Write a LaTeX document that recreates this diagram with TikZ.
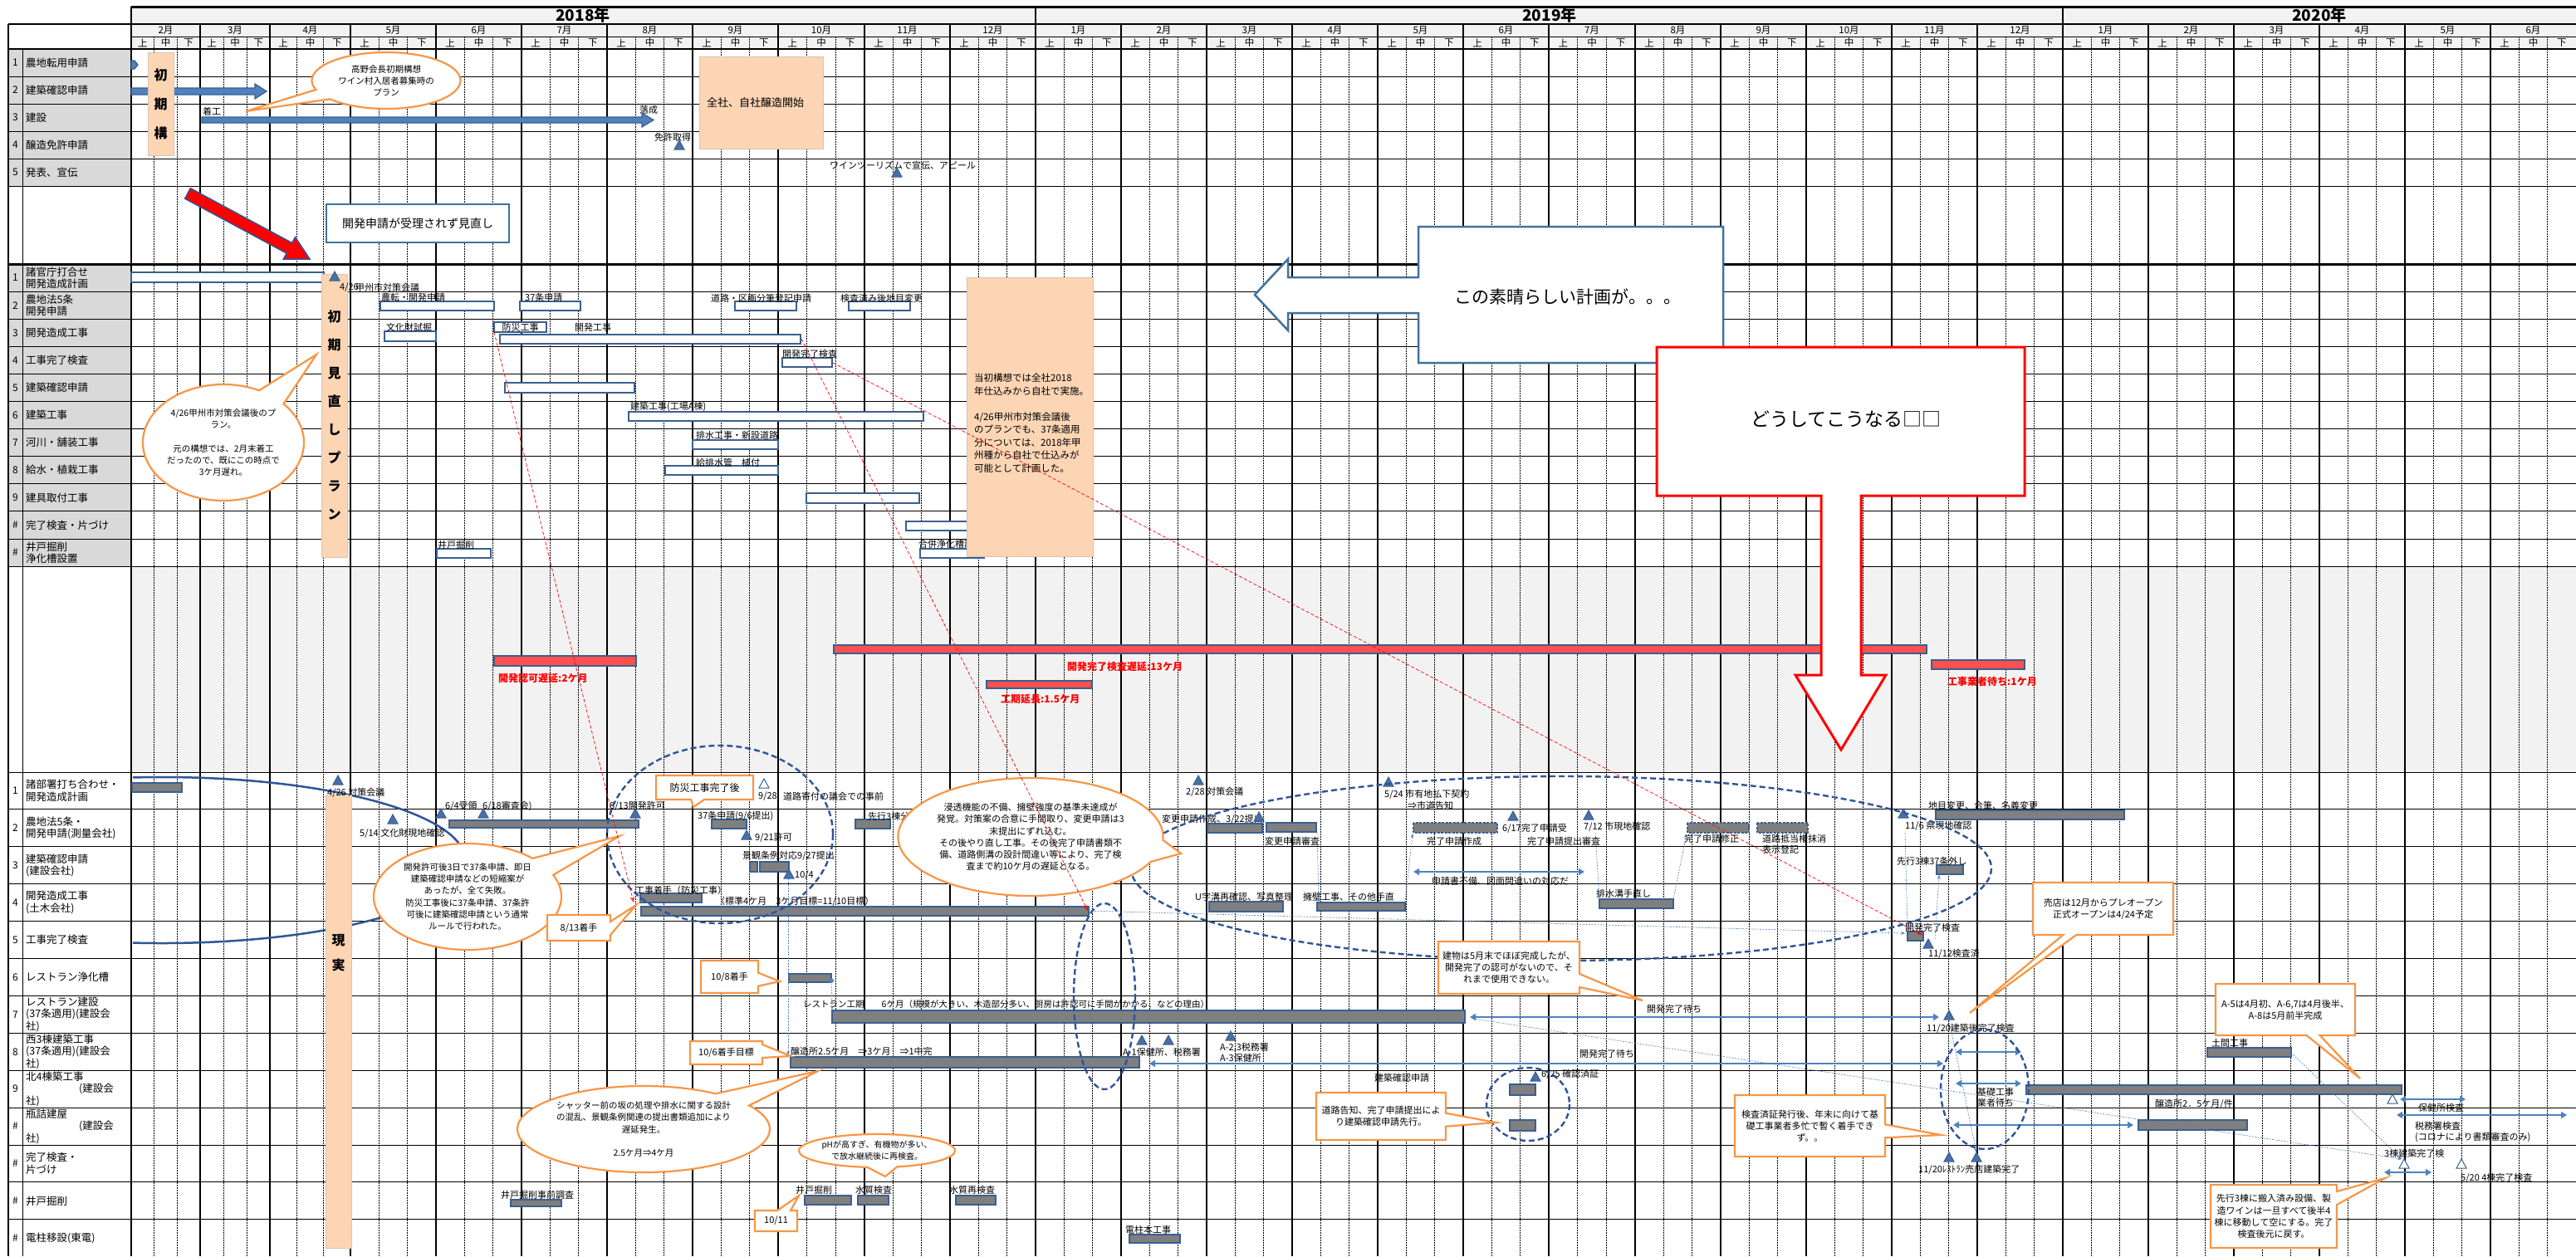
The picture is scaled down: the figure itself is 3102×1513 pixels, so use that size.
\documentclass[tikz,border=0pt]{standalone}
\usepackage{fontspec}
\setmainfont{Noto Sans CJK JP}
\usetikzlibrary{arrows.meta,shapes.callouts}
\definecolor{hdrgray}{HTML}{F2F2F2}
\definecolor{lblgray}{HTML}{D9D9D9}
\definecolor{peach}{HTML}{FCD5B4}
\definecolor{peachedge}{HTML}{D9C3B0}
\definecolor{barblue}{HTML}{3A5F8F}
\definecolor{bargray}{HTML}{7F7F7F}
\definecolor{msblue}{HTML}{4A6FA5}
\definecolor{calloutorange}{HTML}{F79646}
\definecolor{arrowblue}{HTML}{4F81BD}
\definecolor{dashblue}{HTML}{2F5597}
\definecolor{delayred}{HTML}{FF5050}
\definecolor{boxblue}{HTML}{41719C}
\newcommand\fsz[2]{\fontsize{#1}{#2}\selectfont}
\newcommand\mstone[3][]{\filldraw[milestone,#1] (#2-6,#3+5) -- (#2+6,#3+5) -- (#2,#3-6) -- cycle;}

\begin{document}
\begin{tikzpicture}[x=1pt, y=-1pt,
  lbl/.style={font=\fsz{11}{13}, inner sep=0pt, anchor=west},
  rowlbl/.style={font=\fsz{12.5}{14.5}, inner sep=0pt, anchor=west, align=left},
  numlbl/.style={font=\fsz{12}{14}, inner sep=0pt},
  hdr/.style={font=\fsz{11.5}{13}, inner sep=0pt},
  yearlbl/.style={font=\bfseries\fsz{19}{21}, inner sep=0pt},
  vtext/.style={font=\bfseries\fsz{16}{34}, align=center, inner sep=0pt},
  peachbox/.style={fill=peach, draw=peachedge, line width=0.8pt},
  monthline/.style={line width=2.2pt},
  junline/.style={line width=0.5pt, dash pattern=on 1.5pt off 1.5pt},
  rowline/.style={line width=0.9pt},
  planbar/.style={fill=white, draw=barblue, line width=1.8pt},
  realbar/.style={fill=bargray, draw=barblue, line width=1.8pt},
  dashbar/.style={fill=bargray, draw=barblue, line width=1.8pt, dash pattern=on 3pt off 1.5pt},
  delaybar/.style={fill=delayred, draw=barblue, line width=1.2pt},
  delaylbl/.style={lbl, font=\bfseries\fsz{12}{14}, text=red},
  milestone/.style={fill=msblue, draw=barblue, line width=1pt},
  blockarrow/.style={fill=arrowblue, draw=barblue, line width=1.2pt},
  ocall/.style={rectangle callout, draw=calloutorange, line width=2.2pt, fill=white, font=\fsz{11}{14.2}, align=center, inner sep=0pt, callout pointer width=16pt},
  oellip/.style={ellipse callout, draw=calloutorange, line width=2.2pt, fill=white, font=\fsz{10.5}{14.2}, align=center, inner sep=0pt, callout pointer arc=22},
  dashring/.style={draw=dashblue, line width=2.4pt, dash pattern=on 7pt off 4pt},
  dblarrow/.style={{Triangle[length=7pt,width=8pt]}-{Triangle[length=7pt,width=8pt]}, draw=arrowblue, line width=2.3pt},
  conn/.style={-{Stealth[length=5pt]}, draw=arrowblue, line width=0.6pt, dash pattern=on 2pt off 1.5pt},
  redconn/.style={-{Stealth[length=7pt,open]}, draw=red, line width=0.7pt, dash pattern=on 4pt off 2.5pt},
]
\useasboundingbox (0,0) rectangle (3102,1513);
\clip (0,0) rectangle (3102,1513);

% backgrounds
\fill[white] (0,0) rectangle (3102,1513);
\fill[hdrgray] (158,8) rectangle (3102,59);
\fill[lblgray] (10,59) rectangle (158,224);
\fill[lblgray] (10,318) rectangle (158,682);
\fill[hdrgray] (158,682) rectangle (3102,930);

% month / ten-day grid
\foreach \xa/\xb/\m [count=\i] in {158/241/2, 241/325/3, 325/422/4, 422/525/5, 525/628/6, 628/731/7, 731/834/8, 834/937/9, 937/1041/10, 1041/1144/11, 1144/1247/12, 1247/1350/1, 1350/1453/2, 1453/1556/3, 1556/1659/4, 1659/1762/5, 1762/1865/6, 1865/1969/7, 1969/2072/8, 2072/2175/9, 2175/2278/10, 2278/2381/11, 2381/2484/12, 2484/2587/1, 2587/2690/2, 2690/2793/3, 2793/2896/4, 2896/2999/5, 2999/3102/6}{
  \pgfmathsetmacro\xw{(\xb-\xa)/3}
  \draw[junline] ({\xa+\xw},44) -- ({\xa+\xw},1513);
  \draw[junline] ({\xa+2*\xw},44) -- ({\xa+2*\xw},1513);
  \draw[monthline] (\xa,29) -- (\xa,1513);
  \node[hdr] (mon\i) at ({(\xa+\xb)/2},36.5) {\m 月};
  \node[hdr] (jo\i) at ({\xa+0.5*\xw},51.5) {上};
  \node[hdr] (chu\i) at ({\xa+1.5*\xw},51.5) {中};
  \node[hdr] (ge\i) at ({\xa+2.5*\xw},51.5) {下};
}
\draw[line width=3pt] (158,8) -- (3102,8);
\draw[line width=2.5pt] (10,29) -- (3102,29);
\draw[line width=1pt] (158,44) -- (3102,44);
\draw[line width=2.5pt] (10,59) -- (3102,59);
\foreach \y in {92,125,158,191,224} \draw[rowline] (10,\y) -- (3102,\y);
\draw[line width=3pt] (10,318) -- (3102,318);
\foreach \i in {1,...,11} \draw[rowline] (10,{318+33.1*\i}) -- (3102,{318+33.1*\i});
\draw[rowline] (10,930) -- (3102,930);
\foreach \i in {1,...,12} \draw[rowline] (10,{930+44.9*\i}) -- (3102,{930+44.9*\i});
\draw[line width=2.5pt] (10,29) -- (10,1513);
\draw[line width=1pt] (27,59) -- (27,1513);
\draw[line width=2.5pt] (158,8) -- (158,1513);
\draw[line width=2.5pt] (1247,8) -- (1247,29);
\draw[line width=2.5pt] (2484,8) -- (2484,29);
\node[yearlbl] (y2018) at (702,18.5) {2018年};
\node[yearlbl] (y2019) at (1866,18.5) {2019年};
\node[yearlbl] (y2020) at (2793,18.5) {2020年};

% row labels
\foreach \t [count=\i] in {農地転用申請, 建築確認申請, 建設, 醸造免許申請, 発表、宣伝}{
  \node[numlbl] (tn\i) at (18.5,{59+33*(\i-0.5)}) {\i};
  \node[rowlbl] (tl\i) at (31,{59+33*(\i-0.5)}) {\t};
}
\foreach \n/\t [count=\i] in {1/{諸官庁打合せ\\開発造成計画}, 2/{農地法5条\\開発申請}, 3/開発造成工事, 4/工事完了検査, 5/建築確認申請, 6/建築工事, 7/河川・舗装工事, 8/給水・植栽工事, 9/建具取付工事, \#/完了検査・片づけ, \#/{井戸掘削\\浄化槽設置}}{
  \node[numlbl] (mn\i) at (18.5,{318+33.1*(\i-0.5)}) {\n};
  \node[rowlbl] (ml\i) at (31,{318+33.1*(\i-0.5)}) {\t};
}
\foreach \n/\t [count=\i] in {1/{諸部署打ち合わせ・\\開発造成計画}, 2/{農地法5条・\\開発申請(測量会社)}, 3/{建築確認申請\\(建設会社)}, 4/{開発造成工事\\(土木会社)}, 5/工事完了検査, 6/レストラン浄化槽, 7/{レストラン建設\\(37条適用)(建設会\\社)}, 8/{西3棟建築工事\\(37条適用)(建設会\\社)}, 9/{北4棟築工事\\\hspace*{64pt}(建設会\\社)}, \#/{瓶詰建屋\\\hspace*{64pt}(建設会\\社)}, \#/{完了検査・\\片づけ}, \#/井戸掘削, \#/電柱移設(東電)}{
  \node[numlbl] (bn\i) at (18.5,{930+44.9*(\i-0.5)}) {\n};
  \node[rowlbl] (bl\i) at (31,{930+44.9*(\i-0.5)}) {\t};
}

% initial plan
\filldraw[blockarrow] (158,73) -- (162,73) -- (166,78) -- (162,83) -- (158,83) -- cycle;
\filldraw[blockarrow] (158,106) -- (307,106) -- (307,101) -- (321,110) -- (307,119) -- (307,114) -- (158,114) -- cycle;
\filldraw[blockarrow] (243,141) -- (773,141) -- (773,136) -- (787,144.5) -- (773,153) -- (773,148) -- (243,148) -- cycle;
\node[peachbox, vtext, font=\bfseries\fsz{16}{35}, minimum width=31pt, minimum height=124pt] (shoki) at (193.5,125) {初\\期\\構};
\node[lbl] (chako) at (244,134) {着工};
\node[lbl] (rakusei) at (770,132) {落成};
\mstone{818}{175}
\node[lbl, anchor=center] (menkyo) at (810,165) {免許取得};
\node[peachbox, minimum width=149pt, minimum height=111pt] (zensha) at (916.5,123.5) {};
\node[lbl, font=\fsz{13}{15}] (zenshat) at (851,124) {全社、自社醸造開始};
\node[lbl] (tourism) at (999,199) {ワインツーリズムで宣伝、アピール};
\mstone{1080}{208}

% revised plan
\draw[planbar] (158,328) rectangle (390,340);
\node[peachbox, vtext, minimum width=31pt, minimum height=341pt] (minaoshi) at (402.5,500.5) {初\\期\\見\\直\\し\\プ\\ラ\\ン};
\mstone{403}{333}
\node[lbl] (p426) at (409,346) {4/26};
\node[lbl] (ptaisaku) at (428,346) {甲州市対策会議};
\draw[planbar] (458,363) rectangle (595,374);
\node[lbl] (pnoten) at (459,358) {農転・開発申請};
\draw[planbar] (626,363) rectangle (699,374);
\node[lbl] (p37) at (632,358) {37条申請};
\draw[planbar] (885,363) rectangle (959,374);
\node[lbl] (pdoro) at (856,359) {道路・区画分筆登記申請};
\draw[planbar] (1022,363) rectangle (1096,374);
\node[lbl] (pchimoku) at (1012,359) {検査済み後地目変更};
\draw[planbar] (463,399) rectangle (525,411);
\node[lbl] (pbunka) at (465,394) {文化財試掘};
\draw[planbar] (602,403) rectangle (964,414);
\draw[planbar] (595,388) rectangle (658,400);
\node[lbl, anchor=center] (pbosai) at (626.5,394) {防災工事};
\node[lbl] (pkaihatsu) at (692,394) {開発工事};
\draw[planbar] (942,431) rectangle (1002,442);
\node[lbl] (pkanryo) at (942,426) {開発完了検査};
\draw[planbar] (608,461) rectangle (764,473);
\draw[planbar] (757,496) rectangle (1112,507);
\node[lbl] (pkenchiku) at (759,490) {建築工事(工場A棟)};
\draw[planbar] (834,530) rectangle (937,541);
\node[lbl] (phaisui) at (838,524) {排水工事・新設道路};
\draw[planbar] (801,561) rectangle (937,572);
\node[lbl] (pkyusui) at (838,557) {給排水管　植付};
\draw[planbar] (971,594) rectangle (1107,606);
\draw[planbar] (1091,628) rectangle (1199,639);
\draw[planbar] (526,661) rectangle (591,672);
\node[lbl] (pido) at (527,656) {井戸掘削};
\draw[planbar] (1108,661) rectangle (1185,672);
\node[lbl] (pjoka) at (1106,655) {合併浄化槽設置};
\node[peachbox, minimum width=152pt, minimum height=336pt] (toshobox) at (1240,502) {};
\node[lbl, align=left, font=\fsz{11.5}{15.5}] (tosho) at (1173,509.5) {当初構想では全社2018\\年仕込みから自社で実施。\\\\4/26甲州市対策会議後\\のプランでも、37条適用\\分については、2018年甲\\州種から自社で仕込みが\\可能として計画した。};

% delays
\draw[delaybar] (595,790) rectangle (766,802);
\node[delaylbl] (d1) at (600,817) {開発認可遅延:2ケ月};
\draw[delaybar] (1004,777) rectangle (2320,787);
\node[delaylbl] (d2) at (1285,803) {開発完了検査遅延:13ケ月};
\draw[delaybar] (1188,820) rectangle (1315,829);
\node[delaylbl] (d3) at (1205,842) {工期延長:1.5ケ月};
\draw[delaybar] (2326,795) rectangle (2438,806);
\node[delaylbl] (d4) at (2345,821) {工事業者待ち:1ケ月};

% reality
\begin{scope}
  \clip (160,900) rectangle (700,1200);
  \draw[dashblue, line width=2.5pt] (195,1036) ellipse [x radius=365, y radius=100];
\end{scope}
\node[peachbox, minimum width=31pt, minimum height=546pt] (genjitsu) at (407.5,1230) {};
\node[vtext, font=\bfseries\fsz{16}{30}] (genjitsut) at (407.5,1148) {現\\実};

\draw[realbar] (159,943) rectangle (219,954);
\mstone{407}{940}
\node[lbl] (r426) at (394,955) {4/26 対策会議};
\mstone[fill=white]{920}{944}
\node[lbl] (r928) at (913,959) {9/28};
\node[lbl] (rkifu) at (943,959) {道路寄付の議会での事前};
\mstone{1443}{940}
\node[lbl] (r228) at (1428,954) {2/28 対策会議};
\mstone{1672}{942}
\node[lbl] (r524) at (1667,957) {5/24 市有地払下契約};
\node[lbl] (rkokuchi) at (1695,970) {⇒市道告知};
\draw[realbar] (2331,976) rectangle (2558,987);
\node[lbl] (rchimoku) at (2322,970) {地目変更、合筆、名義変更};

\mstone{473}{987}
\node[lbl] (r514) at (433,1004) {5/14 文化財現地確認};
\draw[realbar] (541,988) rectangle (769,997);
\mstone{531}{980}
\mstone{582}{980}
\node[lbl] (r64) at (536,971) {6/4受領};
\node[lbl] (r618) at (581,971) {6/18審査会)};
\mstone{765}{980}
\node[lbl] (r813) at (734,971) {8/13開発許可};
\draw[realbar] (857,987) rectangle (899,998);
\node[lbl] (r37) at (840,983) {37条申請(9/6提出)};
\mstone{899}{1006}
\node[lbl] (r921) at (909,1009) {9/21許可};
\draw[realbar] (1030,987) rectangle (1072,998);
\node[lbl] (rsenko) at (1045,983) {先行3棟分筆};
\draw[realbar] (1454,992) rectangle (1520,1003);
\draw[realbar] (1525,991) rectangle (1585,1002);
\node[lbl] (rhenko) at (1399,987) {変更申請作成、3/22提出};
\mstone{1516}{984}
\node[lbl] (rhenkos) at (1523,1013) {変更申請審査};
\draw[dashbar] (1702,991) rectangle (1803,1003);
\node[lbl] (rkansak) at (1718,1013) {完了申請作成};
\mstone{1822}{983}
\node[lbl] (r617) at (1809,998) {6/17完了申請受};
\node[lbl] (rteishutsu) at (1839,1013) {完了申請提出審査};
\mstone{1913}{982}
\node[lbl] (r712) at (1907,996) {7/12 市現地確認};
\draw[dashbar] (2032,991) rectangle (2106,1003);
\draw[dashbar] (2116,991) rectangle (2177,1003);
\node[lbl] (rshusei) at (2028,1010) {完了申請修正};
\node[lbl, align=left] (rteito) at (2122,1017) {道路抵当権抹消\\表示登記};
\mstone{2292}{980}
\node[lbl] (r116) at (2294,995) {11/6 県現地確認};

\draw[realbar] (903,1038) rectangle (912,1050);
\draw[realbar] (915,1038) rectangle (950,1050);
\node[lbl] (rkeikan) at (894,1031) {景観条例対応9/27提出};
\mstone{950}{1053}
\node[lbl] (r104) at (957,1054) {10/4};
\draw[realbar] (2332,1042) rectangle (2364,1053);
\node[lbl] (r37hazushi) at (2284,1037) {先行3棟37条外し};
\draw[dblarrow] (1702,1050) -- (1908,1050);
\node[lbl] (rfubi) at (1724,1061) {申請書不備、図面間違いの対応だ};

\draw[realbar] (771,1076) rectangle (845,1087);
\node[lbl] (rchakushu) at (765,1072) {工事着手（防災工事）};
\draw[realbar] (772,1092) rectangle (1311,1103);
\node[lbl] (rhyojun) at (862,1086) {（標準4ケ月　3ケ月目標=11/10目標）};
\draw[realbar] (1456,1086) rectangle (1545,1098);
\node[lbl] (ruji) at (1439,1080) {U字溝再確認、写真整理};
\draw[realbar] (1586,1087) rectangle (1692,1097);
\node[lbl] (ryoheki) at (1569,1080) {擁壁工事、その他手直};
\draw[realbar] (1926,1083) rectangle (2015,1094);
\node[lbl] (rhaisui) at (1922,1076) {排水溝手直し};

\draw[realbar] (2297,1122) rectangle (2316,1133);
\node[lbl] (rkaihatsukan) at (2294,1117) {開発完了検査};
\mstone{2322}{1137}
\node[lbl] (r1112) at (2322,1149) {11/12検査済};

\draw[realbar] (950,1173) rectangle (1001,1183);

\draw[realbar] (1002,1217) rectangle (1764,1232);
\node[lbl, font=\fsz{10.5}{13}] (rresto) at (967,1209) {レストラン工期　　6ケ月（規模が大きい、木造部分多い、厨房は許認可に手間がかかる、などの理由）};
\draw[dblarrow] (1770,1225) -- (2335,1225);
\node[lbl] (rmachi1) at (1983,1215) {開発完了待ち};
\mstone{2347}{1223}
\node[lbl] (r1120a) at (2320,1239) {11/20建築後完了検査};

\draw[realbar] (952,1273) rectangle (1372,1286);
\node[lbl] (rjozo) at (952,1266) {醸造所2.5ケ月　⇒3ケ月　⇒1中完};
\mstone{1375}{1253}
\mstone{1407}{1253}
\node[lbl] (ra1) at (1352,1267) {A-1保健所、税務署};
\mstone{1482}{1248}
\node[lbl, align=left] (ra23) at (1469,1268) {A-2,3税務署\\A-3保健所};
\draw[dblarrow] (1384,1281) -- (2340,1281);
\node[lbl] (rmachi2) at (1902,1269) {開発完了待ち};
\draw[dblarrow] (2355,1267) -- (2434,1267);
\draw[dblarrow] (2355,1305) -- (2434,1305);
\draw[dblarrow] (2352,1355) -- (2569,1355);
\draw[realbar] (2658,1262) rectangle (2759,1273);
\node[lbl] (rdoma) at (2663,1256) {土間工事};

\node[lbl] (rkakunin) at (1655,1298) {建築確認申請};
\draw[realbar] (1818,1306) rectangle (1849,1319);
\draw[realbar] (1818,1349) rectangle (1849,1362);
\mstone{1849}{1297}
\node[lbl] (r625) at (1856,1294) {6/25 確認済証};
\node[lbl, align=left] (rkiso) at (2381,1322) {基礎工事\\業者待ち};
\draw[realbar] (2440,1307) rectangle (2892,1318);
\mstone[fill=white]{2881}{1324}
\draw[dblarrow] (2890,1324) -- (2969,1324);
\node[lbl] (rhoken) at (2912,1334) {保健所検査};

\draw[realbar] (2575,1349) rectangle (2706,1361);
\node[lbl] (rjozo2) at (2595,1330) {醸造所2．5ケ月/件};
\draw[dblarrow] (2886,1343) -- (3091,1343);
\node[lbl, align=left] (rzeimu) at (2908,1363) {税務署検査\\(コロナにより書類審査のみ)};

\node[lbl] (r3tou) at (2871,1389) {3棟建築完了検};
\mstone[fill=white]{2895}{1402}
\draw[dblarrow] (2871,1412) -- (2928,1412);
\mstone[fill=white]{2964}{1402}
\node[lbl] (r520) at (2963,1419) {5/20 4棟完了検査};
\mstone{2347}{1394}
\mstone{2380}{1394}
\node[lbl] (r1120b) at (2310,1409) {11/20ﾚｽﾄﾗﾝ売店建築完了};

\draw[realbar] (615,1445) rectangle (676,1453);
\node[lbl] (rjizen) at (603,1439) {井戸掘削事前調査};
\draw[realbar] (969,1440) rectangle (1025,1451);
\node[lbl] (rido) at (958,1433) {井戸掘削};
\draw[realbar] (1033,1440) rectangle (1070,1451);
\node[lbl] (rsuishitsu) at (1030,1433) {水質検査};
\draw[realbar] (1151,1440) rectangle (1199,1451);
\node[lbl] (rsaikensa) at (1143,1433) {水質再検査};
\draw[realbar] (1360,1487) rectangle (1421,1497);
\node[lbl] (rdenchu) at (1355,1481) {電柱本工事};

% dashed rings
\draw[dashring] (867,1005) ellipse [x radius=136, y radius=107];
\draw[dashring] (1880,1046) ellipse [x radius=518, y radius=111];
\draw[dashring] (1330,1200) ellipse [x radius=37, y radius=112];
\draw[dashring] (2390,1312) ellipse [x radius=53, y radius=72];
\draw[dashring] (1840,1330) ellipse [x radius=50, y radius=44];

% thin connectors
\coordinate (kojiE) at (1311,1097);
\coordinate (kensaB) at (2294,1124);
\draw[conn] (kojiE) -- (kensaB);
\coordinate (t104) at (949,1058);
\coordinate (jozoS) at (949,1271);
\draw[conn] (t104) -- (jozoS);
\coordinate (josoE) at (1001,1181);
\coordinate (restoS) at (1002,1216);
\fill[arrowblue] (josoE) circle [radius=3];
\draw[conn] (josoE) -- (restoS);
\coordinate (henkoE) at (1586,1003);
\coordinate (yohekiS) at (1588,1086);
\draw[conn] (henkoE) -- (yohekiS);
\coordinate (yohekiE) at (1692,1087);
\coordinate (kansakS) at (1701,1004);
\draw[conn] (yohekiE) -- (kansakS);
\coordinate (teishutsuE) at (1921,1003);
\coordinate (haisuiS) at (1926,1082);
\draw[conn] (teishutsuE) -- (haisuiS);
\coordinate (haisuiE) at (2015,1083);
\coordinate (shuseiS) at (2031,1004);
\draw[conn] (haisuiE) -- (shuseiS);
\coordinate (kenchiS) at (2294,1003);
\coordinate (kensaT) at (2297,1121);
\draw[conn] (kenchiS) -- (kensaT);
\coordinate (kensaL) at (2330,1131);
\coordinate (hazushiB) at (2335,1054);
\draw[conn] (kensaL) -- (hazushiB);
\coordinate (t1120) at (2347,1229);
\coordinate (t1120b) at (2380,1388);
\draw[conn] (t1120) -- (t1120b);
\coordinate (restoE) at (1774,1227);
\coordinate (t3tou) at (2892,1396);
\draw[conn] (restoE) -- (t3tou);
\coordinate (domaE) at (2759,1268);
\draw[conn] (domaE) -- (t3tou);

% callouts
\node[oellip, minimum width=179pt, minimum height=68pt, callout absolute pointer={(296,134)}] (cTakano) at (465,97) {高野会長初期構想\\ワイン村入居者募集時の\\プラン};
\node[oellip, minimum width=194pt, minimum height=140pt, callout absolute pointer={(381,427)}] (cPlan) at (269,533) {4/26甲州市対策会議後のプ\\ラン。\\\\元の構想では、2月末着工\\だったので、既にこの時点で\\3ケ月遅れ。};
\node[oellip, font=\fsz{11}{14.2}, minimum width=306pt, minimum height=142pt, callout absolute pointer={(1422,1028)}] (cShinto) at (1241,1008) {浸透機能の不備、擁壁強度の基準未達成が\\発覚。対策案の合意に手間取り、変更申請は3\\末提出にずれ込む。\\その後やり直し工事。その後完了申請書類不\\備、道路側溝の設計間違い等により、完了検\\査まで約10ケ月の遅延となる。};
\node[oellip, minimum width=226pt, minimum height=128pt, callout absolute pointer={(746,1007)}] (cKyoka) at (563,1080) {開発許可後3日で37条申請、即日\\建築確認申請などの短縮案が\\あったが、全て失敗。\\防災工事後に37条申請、37条許\\可後に建築確認申請という通常\\ルールで行われた。};
\node[oellip, minimum width=304pt, minimum height=104pt, callout absolute pointer={(985,1290)}] (cShutter) at (775,1360) {シャッター前の坂の処理や排水に関する設計\\の混乱、景観条例関連の提出書類追加により\\遅延発生。\\\\2.5ケ月⇒4ケ月};
\node[oellip, font=\fsz{10}{14}, minimum width=184pt, minimum height=40pt, callout absolute pointer={(1066,1417)}] (cPh) at (1056,1386) {pHが高すぎ、有機物が多い、\\で放水継続後に再検査。};
\node[ocall, font=\fsz{12}{14}, minimum width=117pt, minimum height=29pt, callout absolute pointer={(835,972)}] (cBosai) at (848.5,948.5) {防災工事完了後};
\node[ocall, minimum width=76pt, minimum height=31pt, callout absolute pointer={(766,1090)}] (c813) at (697,1117.5) {8/13着手};
\node[ocall, minimum width=170pt, minimum height=63pt, callout absolute pointer={(1978,1205)}] (cTatemono) at (1817,1165.5) {建物は5月末でほぼ完成したが、\\開発完了の認可がないので、そ\\れまで使用できない。};
\node[ocall, minimum width=69pt, minimum height=39pt, callout absolute pointer={(939,1182)}] (c108) at (878.5,1176.5) {10/8着手};
\node[ocall, minimum width=169pt, minimum height=63pt, callout absolute pointer={(2372,1220)}] (cBaiten) at (2532.5,1094.5) {売店は12月からプレオープン\\正式オープンは4/24予定};
\node[ocall, minimum width=87pt, minimum height=28pt, callout absolute pointer={(952,1272)}] (c106) at (874.5,1268) {10/6着手目標};
\node[ocall, minimum width=168pt, minimum height=62pt, callout absolute pointer={(2842,1299)}] (cA5) at (2752,1216) {A-5は4月初、A-6,7は4月後半、\\A-8は5月前半完成};
\node[ocall, minimum width=156pt, minimum height=57pt, callout absolute pointer={(1801,1352)}] (cDoro) at (1663,1344.5) {道路告知、完了申請提出によ\\り建築確認申請先行。};
\node[ocall, minimum width=181pt, minimum height=74pt, callout absolute pointer={(2337,1367)}] (cKensa) at (2179.5,1356) {検査済証発行後、年末に向けて基\\礎工事業者多忙で暫く着手でき\\ず。。};
\node[ocall, minimum width=152pt, minimum height=76pt, callout absolute pointer={(2872,1419)}] (cSenko) at (2738,1465) {先行3棟に搬入済み設備、製\\造ワインは一旦すべて後半4\\棟に移動して空にする。完了\\検査後元に戻す。};
\node[ocall, minimum width=51pt, minimum height=25pt, callout absolute pointer={(962,1440)}] (c1011) at (934.5,1470.5) {10/11};

% big arrows and boxes
\filldraw[fill=red, draw=dashblue, line width=1.5pt] (222.7,239.2) -- (229.3,226.8) -- (351.7,292.6) -- (355.5,285.6) -- (373,312) -- (341.3,312) -- (345.1,305) -- cycle;
\node[draw=boxblue, line width=2pt, fill=white, minimum width=220pt, minimum height=46pt, font=\fsz{14}{16}] (minaoshibox) at (503,269) {開発申請が受理されず見直し};
\filldraw[fill=white, draw=boxblue, line width=2.5pt] (1708,273) -- (2075,273) -- (2075,437) -- (1708,437) -- (1708,377) -- (1551,377) -- (1551,398) -- (1511,355) -- (1551,312) -- (1551,334) -- (1708,334) -- cycle;
\node[font=\fsz{21}{24}, inner sep=0pt] (subarashii) at (1888,357) {この素晴らしい計画が。。。};
\filldraw[fill=white, draw=red, line width=3pt] (1995,418) -- (2438,418) -- (2438,597) -- (2241,597) -- (2241,813) -- (2271,813) -- (2217,903) -- (2162,813) -- (2193,813) -- (2193,597) -- (1995,597) -- cycle;
\node[font=\fsz{23}{26}, inner sep=0pt] (doushite) at (2223,505) {どうしてこうなる□□};

% plan to reality
\coordinate (bosaiS) at (595,400);
\coordinate (bosaiR) at (763,1087);
\draw[redconn] (bosaiS) -- (bosaiR);
\coordinate (kaihatsuE) at (965,408);
\coordinate (kaihatsuR) at (1310,1097);
\draw[redconn] (kaihatsuE) -- (kaihatsuR);
\coordinate (kanryoE) at (1003,437);
\coordinate (kanryoR) at (2315,1126);
\draw[redconn] (kanryoE) -- (kanryoR);

\end{tikzpicture}
\end{document}
